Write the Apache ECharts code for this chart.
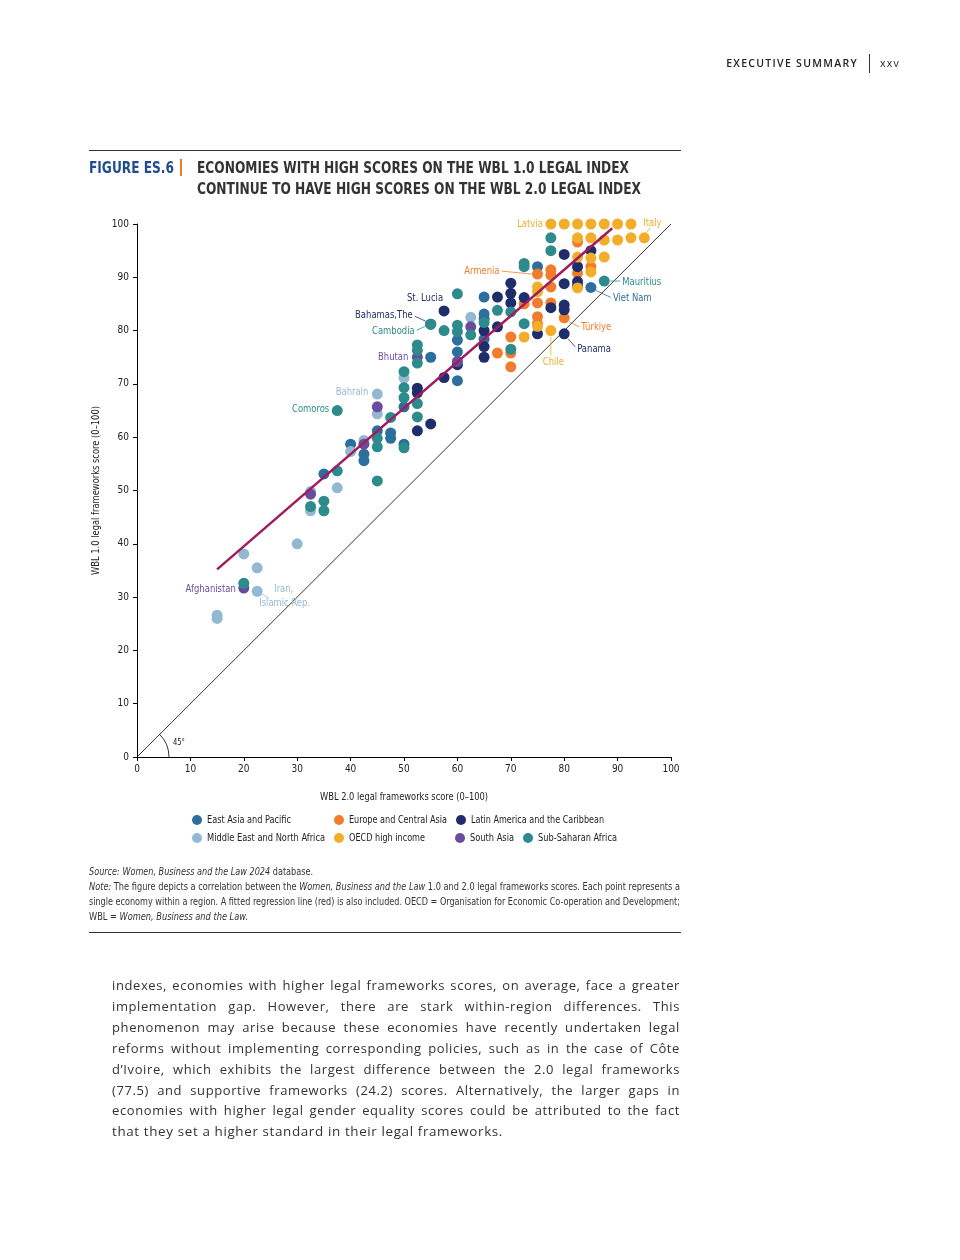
<!DOCTYPE html>
<html><head><meta charset="utf-8">
<script src="https://cdn.jsdelivr.net/npm/echarts@6/dist/echarts.min.js"></script>
<style>
body{margin:0;background:#fff;}
#page{position:relative;width:960px;height:1260px;overflow:hidden;font-family:"Liberation Sans Narrow","DejaVu Sans Condensed","Roboto",sans-serif;color:#333;}
#chart{position:absolute;left:0;top:0;width:960px;height:1260px;}
.abs{position:absolute;white-space:nowrap;}
.rule{position:absolute;left:89px;width:592px;height:0;border-top:1px solid #333;}
#hdr{right:102px;top:56px;font-family:"Open Sans",sans-serif;font-size:10.5px;letter-spacing:1.3px;color:#222;font-weight:600;}
#hdrbar{left:869px;top:54px;width:1px;height:19px;background:#333;}
#pg{left:880px;top:56px;font-family:"Open Sans",sans-serif;font-size:10.5px;letter-spacing:1.2px;color:#222;}
.ln{position:absolute;white-space:nowrap;transform-origin:0 0;}
.ln>span{white-space:nowrap;}
.fig{font-size:16px;font-weight:bold;color:#1F4E8C;line-height:20px;}
#figbar{left:180px;top:159px;width:2px;height:17px;background:#F07D2E;}
.ttl{font-size:16px;font-weight:bold;color:#333;line-height:20px;}
.note{font-size:10.5px;line-height:15px;color:#333;}
.body{font-family:"Open Sans",sans-serif;font-size:13px;letter-spacing:0.6px;line-height:21px;color:#333;}
i{font-style:italic;}
</style></head>
<body><div id="page">
<div id="chart"></div>
<div class="abs" id="hdr">EXECUTIVE SUMMARY</div>
<div class="abs" id="hdrbar"></div>
<div class="abs" id="pg">xxv</div>
<div class="rule" style="top:150px"></div>
<div class="ln fig" style="left:89px;top:158px" data-w="85" data-fit="1"><span>FIGURE ES.6</span></div>
<div class="abs" id="figbar"></div>
<div class="ln ttl" style="left:197px;top:158px" data-w="432" data-fit="1"><span>ECONOMIES WITH HIGH SCORES ON THE WBL 1.0 LEGAL INDEX</span></div>
<div class="ln ttl" style="left:197px;top:179px" data-w="444" data-fit="1"><span>CONTINUE TO HAVE HIGH SCORES ON THE WBL 2.0 LEGAL INDEX</span></div>
<div class="ln note" style="left:89px;top:864px" data-w="224" data-fit="1"><span><i>Source: Women, Business and the Law 2024</i> database.</span></div>
<div class="ln note" style="left:89px;top:879px" data-w="591" data-j="1"><span><i>Note:</i> The figure depicts a correlation between the <i>Women, Business and the Law</i> 1.0 and 2.0 legal frameworks scores. Each point represents a</span></div>
<div class="ln note" style="left:89px;top:894px" data-w="591" data-j="1"><span>single economy within a region. A fitted regression line (red) is also included. OECD = Organisation for Economic Co-operation and Development;</span></div>
<div class="ln note" style="left:89px;top:909px" data-w="159" data-fit="1"><span>WBL = <i>Women, Business and the Law.</i></span></div>
<div class="rule" style="top:932px"></div>
<div class="ln body" style="left:112px;top:975px" data-w="568" data-j="1"><span>indexes, economies with higher legal frameworks scores, on average, face a greater</span></div>
<div class="ln body" style="left:112px;top:996px" data-w="568" data-j="1"><span>implementation gap. However, there are stark within-region differences. This</span></div>
<div class="ln body" style="left:112px;top:1017px" data-w="568" data-j="1"><span>phenomenon may arise because these economies have recently undertaken legal</span></div>
<div class="ln body" style="left:112px;top:1038px" data-w="568" data-j="1"><span>reforms without implementing corresponding policies, such as in the case of Côte</span></div>
<div class="ln body" style="left:112px;top:1059px" data-w="568" data-j="1"><span>d’Ivoire, which exhibits the largest difference between the 2.0 legal frameworks</span></div>
<div class="ln body" style="left:112px;top:1080px" data-w="568" data-j="1"><span>(77.5) and supportive frameworks (24.2) scores. Alternatively, the larger gaps in</span></div>
<div class="ln body" style="left:112px;top:1100px" data-w="568" data-j="1"><span>economies with higher legal gender equality scores could be attributed to the fact</span></div>
<div class="ln body" style="left:112px;top:1121px" data-w="391" data-fit="1"><span>that they set a higher standard in their legal frameworks.</span></div>
</div>
<script>
// ---------- DATA ----------
const regions = ['East Asia and Pacific','Europe and Central Asia','Latin America and the Caribbean',
  'Middle East and North Africa','OECD high income','South Asia','Sub-Saharan Africa'];
const xTicks = [0,10,20,30,40,50,60,70,80,90,100];
const yTicks = [0,10,20,30,40,50,60,70,80,90,100];
const eastAsiaPacific = [[35,53.1],[40,58.7],[42.5,56.8],[42.5,55.6],[45,61.2],[47.5,60.8],[47.5,59.8],[50,58.7],[50,65.7],
  [55,75.0],[60,70.6],[60,78.2],[60,76.0],[65,86.3],[65,83.1],[65,82.2],[65,78.4],[75,92.0],[85,88.1]];
const europeCentralAsia = [[67.5,75.8],[70,78.8],[70,75.8],[70,73.2],[72.5,85.0],[75,90.6],[75,85.2],[75,82.6],[75,81.3],
  [77.5,91.4],[77.5,90.4],[77.5,88.2],[77.5,85.2],[80,82.4],[82.5,96.6],[82.5,90.8],[85,92.0]];
const latinAmericaCaribbean = [[52.5,69.2],[52.5,68.3],[52.5,61.2],[55,62.5],[57.5,71.2],[57.5,83.7],[55,81.2],[60,73.6],
  [65,80.0],[65,77.0],[65,75.0],[67.5,86.3],[67.5,80.7],[70,88.9],[70,87.0],[70,85.2],[72.5,86.2],[75,79.4],[77.5,84.3],
  [80,94.3],[80,88.8],[80,84.8],[80,83.9],[80,79.4],[82.5,92.0],[82.5,89.2],[82.5,88.4],[85,95.0]];
const middleEastNorthAfrica = [[15,26.6],[15,26.0],[20,38.1],[22.5,35.5],[22.5,31.1],[30,40.0],[32.5,49.8],[32.5,46.2],
  [37.5,50.5],[40,57.3],[42.5,59.4],[45,68.1],[45,64.4],[50,71.1],[62.5,82.5]];
const oecdHighIncome = [[77.5,100],[80,100],[82.5,100],[85,100],[87.5,100],[90,100],[92.5,100],
  [82.5,97.4],[85,97.4],[87.5,97.0],[90,97.0],[92.5,97.4],[95,97.4],[82.5,93.8],[85,93.6],[87.5,93.8],[85,91.0],
  [82.5,88.0],[75,88.2],[75,87.3],[75,80.8],[72.5,78.8],[77.5,80.0]];
const southAsia = [[20,31.7],[32.5,49.3],[42.5,58.7],[45,65.7],[52.5,75.0],[60,74.2],[62.5,80.7]];
const subSaharanAfrica = [[20,32.6],[32.5,47.0],[35,48.0],[35,46.2],[37.5,53.7],[37.5,65.0],[45,59.8],[45,58.2],[45,51.8],
  [47.5,63.7],[50,72.3],[50,69.3],[50,67.4],[50,58.0],[52.5,77.3],[52.5,76.3],[52.5,73.9],[52.5,66.3],[52.5,63.8],
  [55,81.2],[57.5,80.0],[60,86.9],[60,81.0],[60,79.8],[62.5,79.2],[65,81.5],[67.5,83.8],[70,83.5],[70,76.5],
  [72.5,92.6],[72.5,92.0],[72.5,81.3],[77.5,97.4],[77.5,95.0],[87.5,89.3]];
const regressionLine = [[15,35.2],[89,99.2]];
const diagonalLine = [[0,0],[100,100]];
const annotationNames = ['Latvia','Italy','Armenia','Mauritius','Viet Nam','St. Lucia','Bahamas,The','Cambodia','Bhutan',
  'Türkiye','Panama','Chile','Bahrain','Comoros','Afghanistan','Iran,\nIslamic Rep.'];
const annotationPoints = [[77.5,100],[95,97.4],[75,90.6],[87.5,89.3],[85,88.1],[57.5,83.7],[55,81.2],[55,81.2],[52.5,75.0],
  [80,82.4],[80,79.4],[77.5,80.0],[45,68.1],[37.5,65.0],[20,31.7],[22.5,31.1]];
const annotationRegion = [4,4,1,6,0,2,2,6,5,1,2,4,3,6,5,3];

// ---------- STYLE ----------
const FONT = '"Liberation Sans Narrow","DejaVu Sans Condensed","Roboto",sans-serif';
const colors = ['#2C6E9C','#F07D2E','#1F2D6B','#93B9D2','#F2AE2A','#6A4C9C','#2E8B8B'];
// label layout: [dx, dy, align, leader line [[dx1,dy1],[dx2,dy2]]] in px relative to the point
const annotationLayout = [
  [-8,0,'right',null],
  [-1,-14,'left',[[2,-5],[6,-10]]],
  [-38,-3,'right',[[-36,-3],[-5,0]]],
  [18,1,'left',[[6,0],[16,0]]],
  [22,11,'left',[[5,3],[20,10]]],
  [-1,-12,'right',null],
  [-18,-9,'right',[[-16,-8],[-5,-3]]],
  [-16,7,'right',[[-14,6],[-5,2]]],
  [-9,0,'right',null],
  [17,10,'left',[[5,4],[15,9]]],
  [13,16,'left',[[4,5],[11,13]]],
  [-8,32,'left',[[0,6],[0,25]]],
  [-9,-2,'right',null],
  [-8,-1,'right',null],
  [-8,1,'right',null],
  [17,5,'left',[[5,3],[12,7]]]
];
const legendPos = [[192,815],[334,815],[456,815],[192,833],[334,833],[455,833],[523,833]];
const legendTextWidth = [84,98,133,118,76,44,79];

// ---------- HTML line fitting ----------
document.querySelectorAll('.ln').forEach(el=>{
  const span = el.firstElementChild;
  const W = span.getBoundingClientRect().width;
  const T = +el.dataset.w;
  if(el.dataset.j){
    if(W > T){ el.style.width = W+'px'; el.style.transform = 'scaleX('+(T/W)+')'; }
    else { el.style.width = T+'px'; el.style.textAlign='justify'; el.style.textAlignLast='justify'; el.style.whiteSpace='normal'; span.style.whiteSpace='normal'; }
  } else if(el.dataset.fit){
    el.style.transform = 'scaleX('+(T/W)+')';
  }
});

// ---------- text measuring ----------
const mctx = document.createElement('canvas').getContext('2d');
function measure(text, size){ mctx.font = size+'px '+FONT; return mctx.measureText(text).width; }
const condense = Math.min(1, 39/measure('Mauritius',10));

const seriesData = [eastAsiaPacific,europeCentralAsia,latinAmericaCaribbean,middleEastNorthAfrica,oecdHighIncome,southAsia,subSaharanAfrica];
const xName = 'WBL 2.0 legal frameworks score (0–100)';
const yName = 'WBL 1.0 legal frameworks score (0–100)';

const chart = echarts.init(document.getElementById('chart'), null, {renderer:'canvas'});
const option = {
  animation:false,
  textStyle:{fontFamily:FONT},
  grid:{left:137, top:224, width:534, height:533, containLabel:false},
  xAxis:{type:'value',min:0,max:100,interval:10,
    axisLine:{show:true,lineStyle:{color:'#000',width:1}},
    axisTick:{show:true,length:4,lineStyle:{color:'#000'}},
    axisLabel:{fontSize:10,color:'#222',margin:7,fontFamily:FONT,formatter:v=>xTicks.includes(v)?String(v):''},
    splitLine:{show:false}},
  yAxis:{type:'value',min:0,max:100,interval:10,
    axisLine:{show:true,lineStyle:{color:'#000',width:1}},
    axisTick:{show:true,length:4,lineStyle:{color:'#000'}},
    axisLabel:{fontSize:10,color:'#222',margin:8,fontFamily:FONT,formatter:v=>yTicks.includes(v)?String(v):''},
    splitLine:{show:false}},
  legend: regions.map((r,i)=>({data:[r],left:legendPos[i][0],top:legendPos[i][1],icon:'circle',itemWidth:10,itemHeight:10,
    itemGap:0,padding:0,selectedMode:false,formatter:()=>'',textStyle:{fontSize:10}})),
  series:[
    {type:'line',data:diagonalLine,symbol:'none',lineStyle:{color:'#000',width:0.8},silent:true,z:1},
    ...regions.map((r,i)=>({name:r,type:'scatter',data:seriesData[i],symbolSize:11,
      itemStyle:{color:colors[i],opacity:1},z:2+i})),
    {type:'line',data:regressionLine,symbol:'none',lineStyle:{color:'#A01C5E',width:2.5},silent:true,z:20}
  ]
};
chart.setOption(option);

const graphics = [];
const origin = chart.convertToPixel({gridIndex:0},[0,0]);
const corner = chart.convertToPixel({gridIndex:0},[100,100]);
// axis titles (condensed)
graphics.push({type:'text',x:(origin[0]+corner[0])/2,y:origin[1]+40,scaleX:168/measure(xName,10.5),
  style:{text:xName,font:'10.5px '+FONT,fill:'#222',textAlign:'center',textVerticalAlign:'middle'},z:30});
graphics.push({type:'text',x:origin[0]-41,y:(origin[1]+corner[1])/2,rotation:Math.PI/2,scaleX:169/measure(yName,10.5),
  style:{text:yName,font:'10.5px '+FONT,fill:'#222',textAlign:'center',textVerticalAlign:'middle'},z:30});
// legend labels (condensed)
regions.forEach((r,i)=>{
  graphics.push({type:'text',x:legendPos[i][0]+15,y:legendPos[i][1]+5,scaleX:Math.min(1,legendTextWidth[i]/measure(r,10.5)),
    style:{text:r,font:'10.5px '+FONT,fill:'#222',textAlign:'left',textVerticalAlign:'middle'},z:30});
});
graphics.push({type:'arc',shape:{cx:origin[0],cy:origin[1],r:32,startAngle:-Math.PI/4,endAngle:0,clockwise:true},
  style:{stroke:'#000',lineWidth:0.8,fill:null},z:30});
graphics.push({type:'text',x:origin[0]+36,y:origin[1]-14,scaleX:condense,style:{text:'45°',font:'8px '+FONT,fill:'#222',textAlign:'left',textVerticalAlign:'middle'},z:30});
annotationNames.forEach((name,k)=>{
  const p = chart.convertToPixel({gridIndex:0},annotationPoints[k]);
  const L = annotationLayout[k];
  const col = colors[annotationRegion[k]];
  if(name.includes('\n')){
    const parts = name.split('\n');
    graphics.push({type:'text',x:p[0]+L[0],y:p[1]+L[1]-7,scaleX:condense,style:{text:parts[0],font:'10px '+FONT,fill:col,textAlign:'left',textVerticalAlign:'middle'},z:30});
    graphics.push({type:'text',x:p[0]+L[0]-15,y:p[1]+L[1]+7,scaleX:condense,style:{text:parts[1],font:'10px '+FONT,fill:col,textAlign:'left',textVerticalAlign:'middle'},z:30});
  } else {
    graphics.push({type:'text',x:p[0]+L[0],y:p[1]+L[1],scaleX:condense,style:{text:name,font:'10px '+FONT,fill:col,textAlign:L[2],textVerticalAlign:'middle'},z:30});
  }
  if(L[3]){
    graphics.push({type:'line',shape:{x1:p[0]+L[3][0][0],y1:p[1]+L[3][0][1],x2:p[0]+L[3][1][0],y2:p[1]+L[3][1][1]},
      style:{stroke:col,lineWidth:0.8},z:30});
  }
});
chart.setOption({graphic:graphics});
</script>
</body></html>
